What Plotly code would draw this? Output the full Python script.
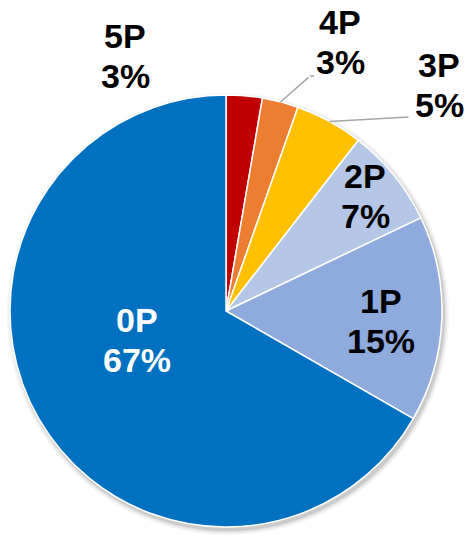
import plotly.graph_objects as go
import math

# Data (clockwise from 12 o'clock)
categories = ["5P", "4P", "3P", "2P", "1P", "0P"]
values = [2.7, 2.7, 5.1, 7.4, 15.4, 66.7]
pct_labels = ["3%", "3%", "5%", "7%", "15%", "67%"]
colors = ["#C00000", "#ED7D31", "#FFC000", "#B4C7E7", "#8FAADC", "#0070C0"]
text_colors = ["#000000", "#000000", "#000000", "#000000", "#000000", "#FFFFFF"]

W, H = 470, 536
# pie domain in pixels
left, right, top, bottom = 9, 443, 95, 527

def px(x):
    return min(max(x / W, 0), 1)

def py(y):
    return min(max(1 - y / H, 0), 1)

fig = go.Figure()

# soft drop shadow behind the pie
for grow, alpha in ((5, 0.035), (3.5, 0.045), (2, 0.06), (1, 0.08)):
    sx, sy = 2, 3
    fig.add_trace(go.Pie(
        values=[sum(values)],
        labels=["shadow"],
        marker=dict(colors=["rgba(0,0,0,%s)" % alpha], line=dict(width=0)),
        textinfo="none", hoverinfo="skip", showlegend=False, sort=False,
        domain=dict(x=[px(left - grow + sx), px(right + grow + sx)],
                    y=[py(bottom + grow + sy), py(top - grow + sy)]),
    ))

fig.add_trace(go.Pie(
    labels=categories,
    values=values,
    sort=False,
    direction="clockwise",
    rotation=0,
    marker=dict(colors=colors, line=dict(color="#FFFFFF", width=1.5)),
    textinfo="none",
    hoverinfo="label+percent",
    showlegend=False,
    domain=dict(x=[px(left), px(right)], y=[py(bottom), py(top)]),
))

# pie geometry (pixels)
R = min(right - left, bottom - top) / 2
cx = (left + right) / 2
cy = (top + bottom) / 2
total = sum(values)
cum = 0
mid_angles = []
for v in values:
    mid_angles.append((cum + v / 2) / total * 2 * math.pi)
    cum += v

# label block centres (pixels)
label_pos = {
    "5P": (125, 56),
    "4P": (340, 42),
    "3P": (439, 85),
    "2P": (365, 196),
    "1P": (381, 321),
    "0P": (137, 340),
}
line_gap = 20
font_family = "Liberation Sans, Arial, sans-serif"
fsize = 34

for name, pct, tc in zip(categories, pct_labels, text_colors):
    lx, ly = label_pos[name]
    for txt, yy in ((name, ly - line_gap), (pct, ly + line_gap)):
        fig.add_annotation(
            x=px(lx), y=py(yy), xref="paper", yref="paper",
            text="<b>%s</b>" % txt, showarrow=False,
            xanchor="center", yanchor="middle",
            font=dict(family=font_family, size=fsize, color=tc),
        )

# leader lines for the small outer slices
leader_tails = {"4P": (310, 76), "3P": (410, 117)}
for i, name in enumerate(categories):
    if name in leader_tails:
        a = mid_angles[i]
        tx = cx + R * math.sin(a)
        ty = cy - R * math.cos(a)
        ex, ey = leader_tails[name]
        fig.add_annotation(
            x=px(tx), y=py(ty), xref="paper", yref="paper",
            text="", showarrow=True, arrowhead=0, arrowwidth=1.5,
            arrowcolor="#A6A6A6", ax=ex - tx, ay=ey - ty,
            axref="pixel", ayref="pixel",
        )
fig.add_shape(type="line", xref="paper", yref="paper",
              x0=px(310), y0=py(76), x1=px(314), y1=py(76),
              line=dict(color="#A6A6A6", width=1.5))

fig.update_layout(
    width=W, height=H,
    margin=dict(l=0, r=0, t=0, b=0),
    paper_bgcolor="#FFFFFF",
    plot_bgcolor="#FFFFFF",
)

fig.write_html("out.html", config={"displayModeBar": False},
               post_script="document.body.style.margin='0';")
